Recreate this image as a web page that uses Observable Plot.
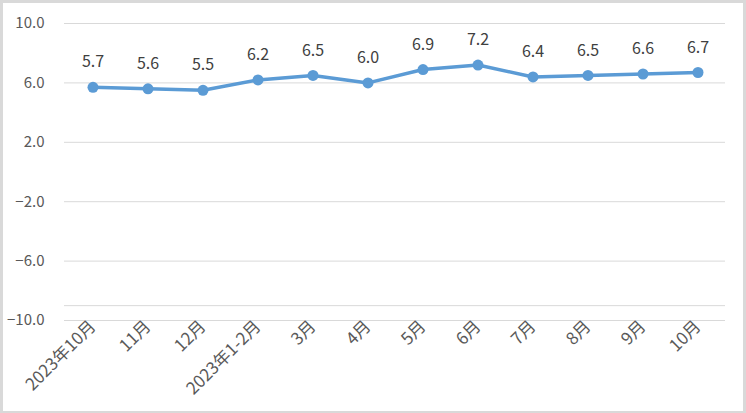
<!DOCTYPE html>
<html>
<head>
<meta charset="utf-8">
<script src="https://cdn.jsdelivr.net/npm/d3@7"></script>
<script src="https://cdn.jsdelivr.net/npm/@observablehq/plot@0.6"></script>
<style>
  html, body { margin: 0; padding: 0; background: #fff; }
  #frame { width: 746px; height: 413px; box-sizing: border-box; border: 3px solid #d9d9d9; border-bottom-width: 2px; overflow: hidden; background: #fff; }
  svg { display: block; }
</style>
</head>
<body>
<div id="frame"></div>
<script>
const months = ["2023年10月", "11月", "12月", "2023年1-2月", "3月", "4月", "5月", "6月", "7月", "8月", "9月", "10月"];
const values = [5.7, 5.6, 5.5, 6.2, 6.5, 6.0, 6.9, 7.2, 6.4, 6.5, 6.6, 6.7];
const yTicks = [-10, -6, -2, 2, 6, 10];
const axisCross = [-9];

const data = months.map((m, i) => ({month: m, value: values[i]}));
const font = "'Noto Sans CJK SC', 'Noto Sans', sans-serif";

const chart = Plot.plot({
  width: 740,
  height: 408,
  marginLeft: 61,
  marginRight: 18,
  marginTop: 20,
  marginBottom: 91,
  style: {fontFamily: font, fontSize: "15px", color: "#595959", background: "#fff"},
  x: {type: "band", domain: months, padding: 0, label: null},
  y: {domain: [-10, 10], label: null},
  marks: [
    Plot.gridY(yTicks, {stroke: "#d9d9d9", strokeOpacity: 1, strokeWidth: 1}),
    Plot.ruleY(axisCross, {stroke: "#d9d9d9", strokeWidth: 1}),
    Plot.axisY({ticks: yTicks, tickSize: 0, tickPadding: 20, tickFormat: d3.format(".1f"), fontSize: 15, fill: "#595959"}),
    Plot.axisX({tickSize: 0, tickRotate: -45, tickPadding: 3, fontSize: 17, fill: "#595959"}),
    Plot.line(data, {x: "month", y: "value", stroke: "#5b9bd5", strokeWidth: 3.5}),
    Plot.dot(data, {x: "month", y: "value", fill: "#5b9bd5", r: 5.5}),
    Plot.text(data, {x: "month", y: "value", text: d => d.value.toFixed(1), dy: -25, fontSize: 16, fill: "#404040"})
  ]
});
document.getElementById("frame").appendChild(chart);
</script>
</body>
</html>
